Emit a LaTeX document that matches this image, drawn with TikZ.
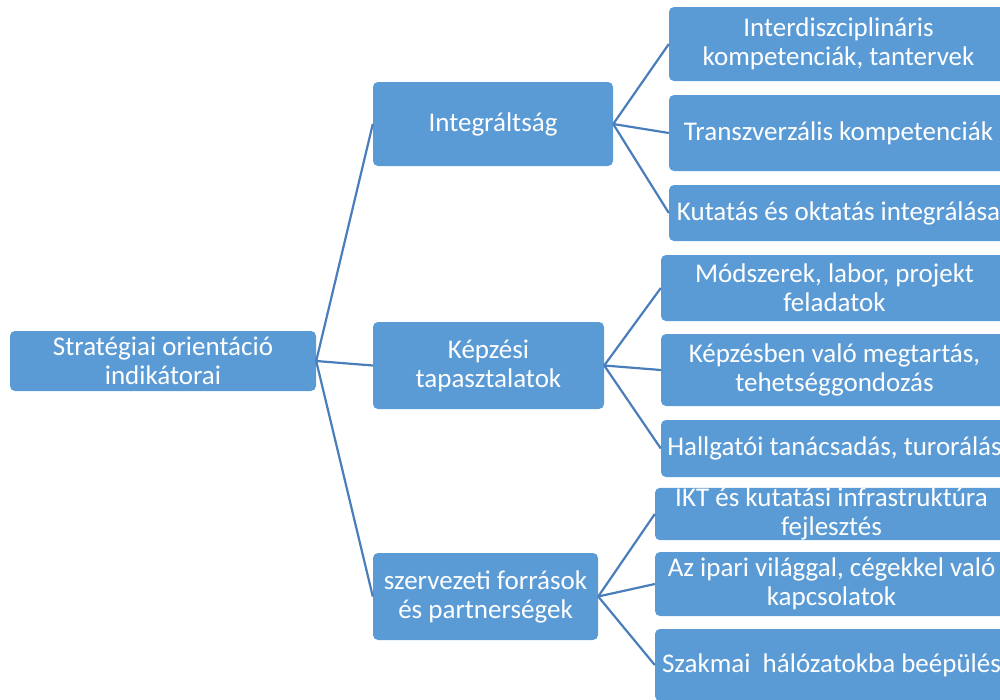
\documentclass[tikz,border=0pt]{standalone}
\usepackage{fontspec}
\setmainfont{Carlito}
\definecolor{boxfill}{HTML}{5B9BD5}
\definecolor{linec}{HTML}{4A7EBB}
\begin{document}
\begin{tikzpicture}[x=1pt,y=-1pt,
  box/.style={rectangle, rounded corners=5pt, fill=boxfill, text=white, inner sep=0pt, align=center,
    font=\fontsize{27}{29}\selectfont},
  conn/.style={draw=linec, line width=2.2pt}]
\useasboundingbox (0,0) rectangle (1000,699);
\clip (0,0) rectangle (1000,699);
% root
\node[box, minimum width=306pt, minimum height=60pt] (root) at (163,361) {Stratégiai orientáció\\indikátorai};
% level 1
\node[box, minimum width=240pt, minimum height=84pt] (int) at (493,124) {Integráltság};
\node[box, minimum width=231pt, minimum height=87pt] (kep) at (488.5,365.5) {Képzési\\tapasztalatok};
\node[box, minimum width=225pt, minimum height=87pt] (szerv) at (485.5,596.5) {szervezeti források\\és partnerségek};
% level 2
\node[box, minimum width=339pt, minimum height=74pt] (a1) at (838.5,44) {Interdiszciplináris\\kompetenciák, tantervek};
\node[box, minimum width=339pt, minimum height=76pt] (a2) at (838.5,133) {Transzverzális kompetenciák};
\node[box, minimum width=339pt, minimum height=56pt] (a3) at (838.5,213) {Kutatás és oktatás integrálása};
\node[box, minimum width=347pt, minimum height=66pt] (b1) at (834.5,288) {Módszerek, labor, projekt\\feladatok};
\node[box, minimum width=347pt, minimum height=72pt] (b2) at (834.5,370) {Képzésben való megtartás,\\tehetséggondozás};
\node[box, minimum width=347pt, minimum height=57pt] (b3) at (834.5,448.5) {Hallgatói tanácsadás, turorálás};
\node[box, minimum width=353pt, minimum height=48pt] (c1) at (831.5,514) {IKT és kutatási infrastruktúra\\fejlesztés};
\node[box, minimum width=353pt, minimum height=64pt] (c2) at (831.5,584) {Az ipari világgal, cégekkel való\\kapcsolatok};
\node[box, minimum width=353pt, minimum height=72pt] (c3) at (831.5,665) {Szakmai\ \ hálózatokba beépülés};
% connectors
\draw[conn] (root.east) -- (int.west);
\draw[conn] (root.east) -- (kep.west);
\draw[conn] (root.east) -- (szerv.west);
\draw[conn] (int.east) -- (a1.west);
\draw[conn] (int.east) -- (a2.west);
\draw[conn] (int.east) -- (a3.west);
\draw[conn] (kep.east) -- (b1.west);
\draw[conn] (kep.east) -- (b2.west);
\draw[conn] (kep.east) -- (b3.west);
\draw[conn] (szerv.east) -- (c1.west);
\draw[conn] (szerv.east) -- (c2.west);
\draw[conn] (szerv.east) -- (c3.west);
\end{tikzpicture}
\end{document}
